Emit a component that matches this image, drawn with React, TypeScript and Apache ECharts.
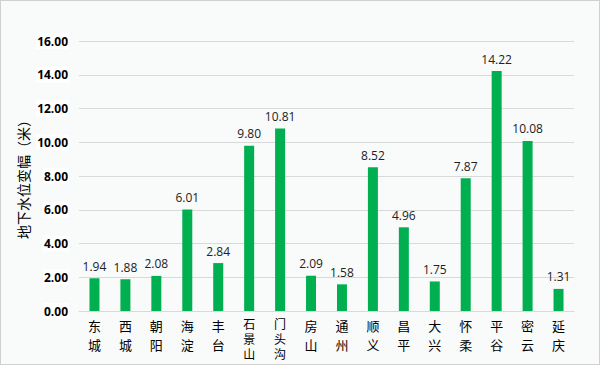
import React, { useEffect, useRef } from "react";
import * as echarts from "echarts";

const categories = ["东城", "西城", "朝阳", "海淀", "丰台", "石景山", "门头沟", "房山", "通州", "顺义", "昌平", "大兴", "怀柔", "平谷", "密云", "延庆"];
const values = [1.94, 1.88, 2.08, 6.01, 2.84, 9.8, 10.81, 2.09, 1.58, 8.52, 4.96, 1.75, 7.87, 14.22, 10.08, 1.31];
const yTicks = [0, 2, 4, 6, 8, 10, 12, 14, 16];

export default function App() {
  const ref = useRef<HTMLDivElement>(null);
  useEffect(() => {
    const chart = echarts.init(ref.current!, null, { renderer: "svg" });
    chart.setOption({
      animation: false,
      backgroundColor: "#f9fafa",
      grid: { left: 78, right: 25, top: 40, bottom: 53, outerBoundsMode: "none", containLabel: false },
      xAxis: {
        type: "category",
        data: categories,
        axisTick: { show: false },
        axisLine: { lineStyle: { color: "#d9d9d9" } },
        axisLabel: {
          interval: 0,
          color: "#000",
          fontSize: 13,
          fontFamily: "Noto Sans CJK SC",
          margin: 5,
          formatter: (v: string) => {
            const k = v.length > 2 ? "b" : "a";
            return v.split("").map((c) => `{${k}|${c}}`).join("\n");
          },
          rich: {
            a: { lineHeight: 19, fontSize: 13, color: "#000", fontFamily: "Noto Sans CJK SC" },
            b: { lineHeight: 15, fontSize: 12, color: "#000", fontFamily: "Noto Sans CJK SC" },
          },
        },
      },
      yAxis: {
        type: "value",
        min: yTicks[0],
        max: yTicks[yTicks.length - 1],
        interval: 2,
        name: "地下水位变幅（米）",
        nameLocation: "middle",
        nameGap: 49,
        nameRotate: 90,
        nameMoveOverlap: false,
        nameTextStyle: { color: "#000", fontSize: 14, fontFamily: "Noto Sans CJK SC" },
        axisLine: { show: false },
        axisTick: { show: false },
        splitLine: { lineStyle: { color: "#d9d9d9" } },
        axisLabel: {
          color: "#000",
          fontWeight: "bold",
          fontSize: 12,
          fontFamily: "Open Sans",
          margin: 10,
          backgroundColor: "#fff",
          padding: [2, 1, 2, 1],
          formatter: (v: number) => v.toFixed(2),
        },
      },
      series: [
        {
          type: "bar",
          data: values,
          barWidth: 10,
          itemStyle: { color: "#00b050" },
          label: {
            show: true,
            position: "top",
            distance: 6,
            color: "#222",
            fontSize: 12,
            fontFamily: "Open Sans",
            formatter: (p: any) => p.value.toFixed(2),
          },
        },
      ],
    });
    return () => chart.dispose();
  }, []);
  return (
    <div style={{ position: "fixed", left: 0, top: 0, width: 600, height: 365, boxSizing: "border-box", border: "1px solid #d0d0d0" }}>
      <div ref={ref} style={{ width: 598, height: 363 }} />
    </div>
  );
}
